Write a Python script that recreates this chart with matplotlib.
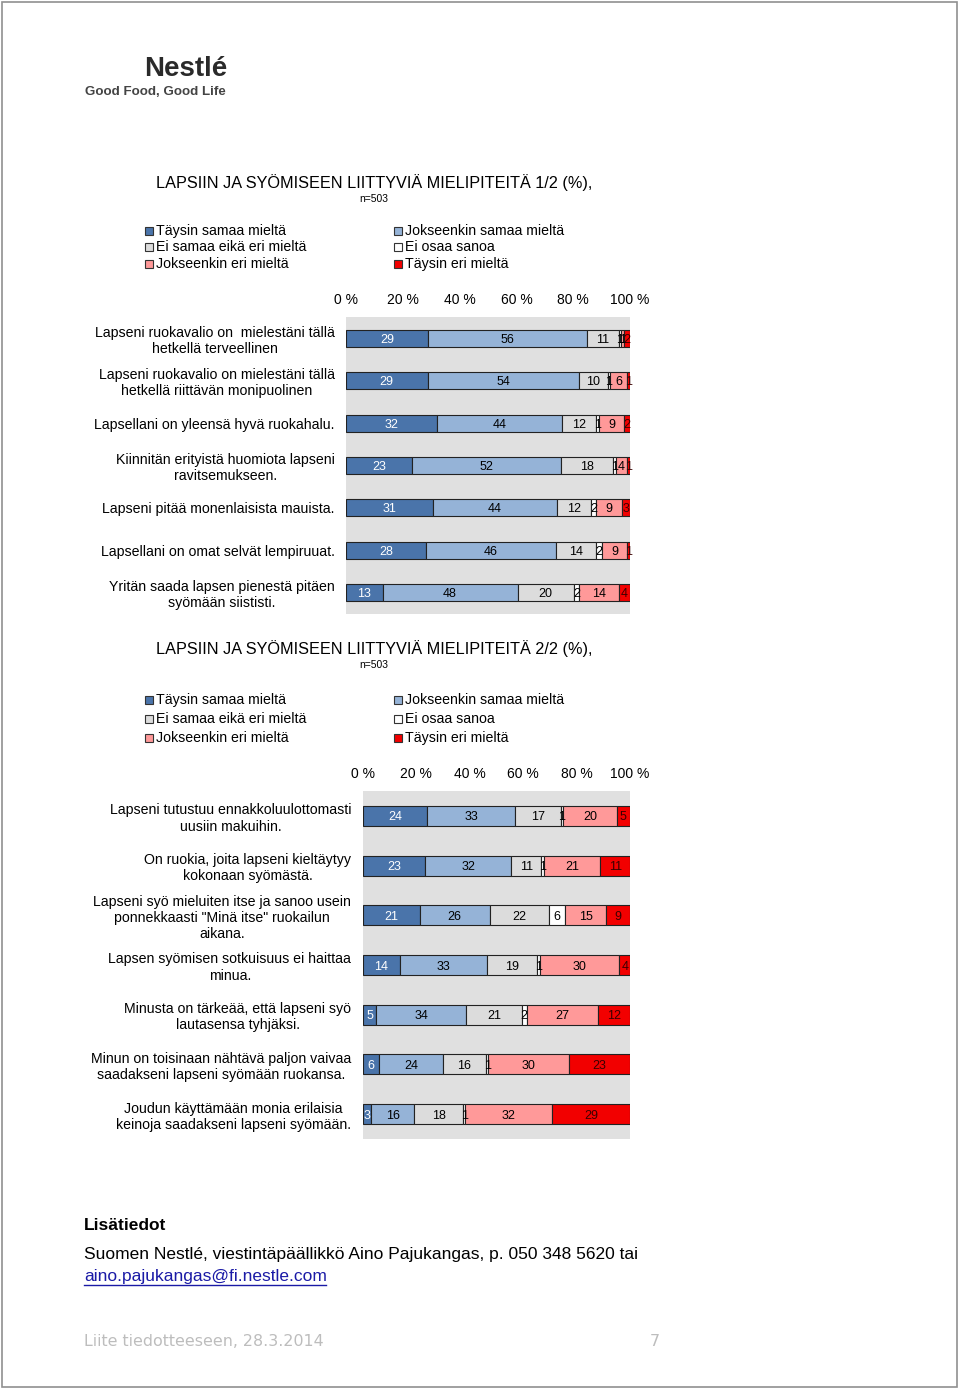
import matplotlib
matplotlib.use("Agg")
import matplotlib.pyplot as plt
from matplotlib.patches import Rectangle
import numpy as np

plt.rcParams['font.family'] = ['Liberation Sans', 'DejaVu Sans']

series = ["Täysin samaa mieltä", "Jokseenkin samaa mieltä", "Ei samaa eikä eri mieltä",
          "Ei osaa sanoa", "Jokseenkin eri mieltä", "Täysin eri mieltä"]
colors = ["#4A74AA", "#95B3D7", "#DCDCDC", "#FFFFFF", "#FF9999", "#F20000"]
text_colors = ["white", "black", "black", "black", "black", "#3a0000"]

cats1 = ["Lapseni ruokavalio on  mielestäni tällä\nhetkellä terveellinen",
         "Lapseni ruokavalio on mielestäni tällä\nhetkellä riittävän monipuolinen",
         "Lapsellani on yleensä hyvä ruokahalu.",
         "Kiinnitän erityistä huomiota lapseni\nravitsemukseen.",
         "Lapseni pitää monenlaisista mauista.",
         "Lapsellani on omat selvät lempiruuat.",
         "Yritän saada lapsen pienestä pitäen\nsyömään siististi."]
vals1 = [[29, 56, 11, 1, 1, 2],
         [29, 54, 10, 1, 6, 1],
         [32, 44, 12, 1, 9, 2],
         [23, 52, 18, 1, 4, 1],
         [31, 44, 12, 2, 9, 3],
         [28, 46, 14, 2, 9, 1],
         [13, 48, 20, 2, 14, 4]]

cats2 = ["Lapseni tutustuu ennakkoluulottomasti\nuusiin makuihin.",
         "On ruokia, joita lapseni kieltäytyy\nkokonaan syömästä.",
         "Lapseni syö mieluiten itse ja sanoo usein\nponnekkaasti \"Minä itse\" ruokailun\naikana.",
         "Lapsen syömisen sotkuisuus ei haittaa\nminua.",
         "Minusta on tärkeää, että lapseni syö\nlautasensa tyhjäksi.",
         "Minun on toisinaan nähtävä paljon vaivaa\nsaadakseni lapseni syömään ruokansa.",
         "Joudun käyttämään monia erilaisia\nkeinoja saadakseni lapseni syömään."]
vals2 = [[24, 33, 17, 1, 20, 5],
         [23, 32, 11, 1, 21, 11],
         [21, 26, 22, 6, 15, 9],
         [14, 33, 19, 1, 30, 4],
         [5, 34, 21, 2, 27, 12],
         [6, 24, 16, 1, 30, 23],
         [3, 16, 18, 1, 32, 29]]

ticks = [0, 20, 40, 60, 80, 100]
tick_labels = ["0 %", "20 %", "40 %", "60 %", "80 %", "100 %"]

W, H = 960, 1390
fig = plt.figure(figsize=(9.6, 13.9), dpi=100)


def fx(px):
    return px / W


def fy(py):
    return 1 - py / H


def draw_chart(ax, cats, vals, label_pad):
    v = np.array(vals, dtype=float)
    pct = v / v.sum(axis=1, keepdims=True) * 100
    y = np.arange(len(cats))
    left = np.zeros(len(cats))
    for j in range(v.shape[1]):
        ax.barh(y, pct[:, j], left=left, height=0.4, color=colors[j],
                edgecolor="#222222", linewidth=0.8, zorder=3)
        for i in range(len(cats)):
            ax.text(left[i] + pct[i, j] / 2, y[i], f"{int(v[i, j])}",
                    ha="center", va="center_baseline", fontsize=9,
                    color=text_colors[j], zorder=4)
        left = left + pct[:, j]
    ax.set_xlim(0, 100)
    ax.set_ylim(len(cats) - 0.5, -0.5)
    ax.set_facecolor("#E0E0E0")
    ax.xaxis.tick_top()
    ax.set_xticks(ticks)
    ax.set_xticklabels(tick_labels, fontsize=10)
    ax.set_yticks(y)
    ax.set_yticklabels(cats, fontsize=10.2, multialignment="center")
    ax.tick_params(length=0, axis="x", pad=7)
    ax.tick_params(length=0, axis="y", pad=label_pad)
    for s in ax.spines.values():
        s.set_visible(False)


def draw_legend(x1, x2, ys):
    order = [(0, x1, ys[0]), (2, x1, ys[1]), (4, x1, ys[2]),
             (1, x2, ys[0]), (3, x2, ys[1]), (5, x2, ys[2])]
    for idx, x, yy in order:
        fig.patches.append(Rectangle((fx(x - 11), fy(yy + 4)), 8 / W, 8 / H,
                                     transform=fig.transFigure, facecolor=colors[idx],
                                     edgecolor="#333333", linewidth=0.8))
        fig.text(fx(x), fy(yy), series[idx], fontsize=10.2, va="center", ha="left")


# Page border
fig.patches.append(Rectangle((fx(2), fy(1387)), 955 / W, 1385 / H,
                             transform=fig.transFigure, fill=False,
                             edgecolor="#909090", linewidth=1.2))

# Logo (text approximation)
fig.text(fx(144), fy(69), "Nestlé", fontsize=20, fontweight="bold", color="#2a2a2a",
         va="center", ha="left")
fig.text(fx(85), fy(92), "Good Food, Good Life", fontsize=9.6, fontweight="bold",
         color="#444444", va="center", ha="left")

# Chart 1
fig.text(fx(156), fy(183), "LAPSIIN JA SYÖMISEEN LIITTYVIÄ MIELIPITEITÄ 1/2 (%),",
         fontsize=11.7, va="center", ha="left")
fig.text(fx(374), fy(199), "n=503", fontsize=7.5, va="center", ha="center")
draw_legend(156, 405, [231, 247, 264])
ax1 = fig.add_axes([fx(346), fy(614), (630 - 346) / W, (614 - 317) / H])
draw_chart(ax1, cats1, vals1, 8)

# Chart 2
fig.text(fx(156), fy(649), "LAPSIIN JA SYÖMISEEN LIITTYVIÄ MIELIPITEITÄ 2/2 (%),",
         fontsize=11.7, va="center", ha="left")
fig.text(fx(374), fy(665), "n=503", fontsize=7.5, va="center", ha="center")
draw_legend(156, 405, [700, 719, 738])
ax2 = fig.add_axes([fx(363), fy(1139), (630 - 363) / W, (1139 - 791) / H])
draw_chart(ax2, cats2, vals2, 8.5)

# Footer texts
fig.text(fx(84), fy(1225), "Lisätiedot", fontsize=12.5, fontweight="bold",
         va="center", ha="left")
fig.text(fx(84), fy(1255), "Suomen Nestlé, viestintäpäällikkö Aino Pajukangas, p. 050 348 5620 tai",
         fontsize=12.5, va="center", ha="left")
fig.text(fx(84), fy(1276), "aino.pajukangas@fi.nestle.com", fontsize=12.5,
         va="center", ha="left", color="#1a1aa6")
fig.lines.append(plt.Line2D([fx(84), fx(326)], [fy(1285), fy(1285)],
                            transform=fig.transFigure, color="#1a1aa6", linewidth=1))
fig.text(fx(84), fy(1341), "Liite tiedotteeseen, 28.3.2014", fontsize=11.4,
         family="DejaVu Sans", color="#BDBDBD", va="center", ha="left")
fig.text(fx(655), fy(1341), "7", fontsize=11.4, family="DejaVu Sans", color="#BDBDBD",
         va="center", ha="center")

fig.savefig("out.png", dpi=100, facecolor="white")
